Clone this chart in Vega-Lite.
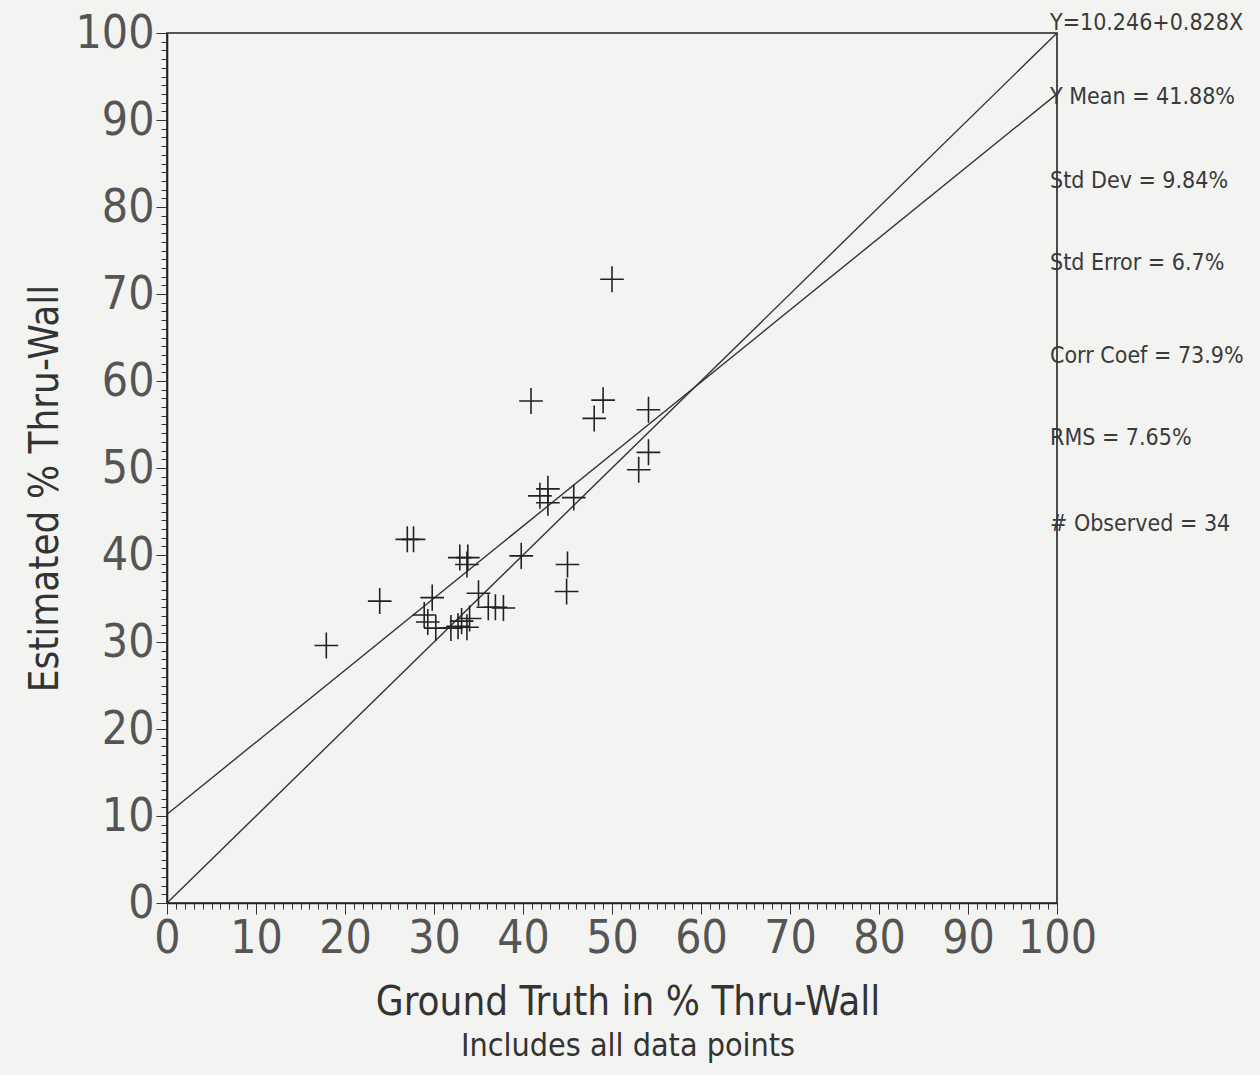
{
  "$schema": "https://vega.github.io/schema/vega-lite/v6.json",
  "width": 890,
  "height": 870,
  "autosize": "none",
  "padding": {"left": 167, "top": 33, "right": 203, "bottom": 172},
  "background": "#f3f3f1",
  "config": {
    "view": {"stroke": "#222222", "strokeWidth": 1.6},
    "font": "DejaVu Sans Condensed, sans-serif"
  },
  "datasets": {
    "points": [
      {"truth": 50.0, "est": 71.7}, {"truth": 40.9, "est": 57.7}, {"truth": 49.0, "est": 57.8},
      {"truth": 48.0, "est": 55.7}, {"truth": 54.1, "est": 56.7}, {"truth": 54.1, "est": 51.8},
      {"truth": 53.0, "est": 49.8}, {"truth": 41.9, "est": 46.8}, {"truth": 42.8, "est": 47.6},
      {"truth": 42.8, "est": 46.0}, {"truth": 45.7, "est": 46.6}, {"truth": 27.0, "est": 41.8},
      {"truth": 27.7, "est": 41.8}, {"truth": 32.9, "est": 39.7}, {"truth": 33.8, "est": 39.7},
      {"truth": 33.7, "est": 38.9}, {"truth": 39.8, "est": 39.9}, {"truth": 45.0, "est": 38.9},
      {"truth": 44.9, "est": 35.8}, {"truth": 23.9, "est": 34.7}, {"truth": 17.9, "est": 29.6},
      {"truth": 29.8, "est": 35.1}, {"truth": 35.0, "est": 35.6}, {"truth": 36.1, "est": 34.0},
      {"truth": 36.9, "est": 34.0}, {"truth": 37.8, "est": 33.9}, {"truth": 28.9, "est": 33.1},
      {"truth": 29.3, "est": 32.3}, {"truth": 30.2, "est": 31.6}, {"truth": 31.9, "est": 31.6},
      {"truth": 32.7, "est": 31.8}, {"truth": 33.1, "est": 32.4}, {"truth": 33.7, "est": 31.7},
      {"truth": 34.0, "est": 32.7}
    ],
    "lines": [
      {"line": "identity", "x": 0, "y": 0}, {"line": "identity", "x": 100, "y": 100},
      {"line": "fit", "x": 0, "y": 10.2}, {"line": "fit", "x": 100, "y": 93.0}
    ],
    "stats": [
      {"label": "Y=10.246+0.828X", "pos": 101.2},
      {"label": "Y Mean = 41.88%", "pos": 92.6},
      {"label": "Std Dev = 9.84%", "pos": 83.0},
      {"label": "Std Error = 6.7%", "pos": 73.6},
      {"label": "Corr Coef = 73.9%", "pos": 62.9},
      {"label": "RMS = 7.65%", "pos": 53.5},
      {"label": "# Observed = 34", "pos": 43.6}
    ]
  },
  "title": {
    "text": "Ground Truth in % Thru-Wall",
    "subtitle": "Includes all data points",
    "orient": "bottom",
    "anchor": "middle",
    "dx": 16,
    "offset": 22,
    "fontSize": 40,
    "fontWeight": "normal",
    "color": "#333333",
    "subtitleFontSize": 32,
    "subtitleColor": "#333333",
    "subtitlePadding": 8
  },
  "layer": [
    {
      "data": {"name": "lines"},
      "mark": {"type": "line", "color": "#333333", "strokeWidth": 1.4},
      "encoding": {
        "x": {"field": "x", "type": "quantitative", "scale": {"domain": [0, 100], "nice": false},
              "axis": {"orient": "bottom", "tickCount": 100, "labels": false, "tickSize": 6, "tickColor": "#333333", "domainColor": "#222222", "domainWidth": 1.6, "grid": false, "title": null}},
        "y": {"field": "y", "type": "quantitative", "scale": {"domain": [0, 100], "nice": false},
              "axis": {"orient": "left", "tickCount": 100, "labels": false, "tickSize": 6, "tickColor": "#333333", "domainColor": "#222222", "domainWidth": 1.6, "grid": false, "title": null}},
        "detail": {"field": "line"}
      }
    },
    {
      "data": {"name": "points"},
      "mark": {"type": "point", "shape": "M-1,0H1M0,-1.1V1.1", "size": 560, "filled": false, "stroke": "#222222", "strokeWidth": 1.6, "opacity": 1},
      "encoding": {
        "x": {"field": "truth", "type": "quantitative",
              "axis": {"orient": "bottom", "values": [0, 10, 20, 30, 40, 50, 60, 70, 80, 90, 100], "tickSize": 11, "tickColor": "#333333", "domain": false, "grid": false, "title": null,
                       "labelFontSize": 46, "labelColor": "#555555", "labelPadding": 2, "labelFlush": false}},
        "y": {"field": "est", "type": "quantitative",
              "axis": {"orient": "left", "values": [0, 10, 20, 30, 40, 50, 60, 70, 80, 90, 100], "tickSize": 11, "tickColor": "#333333", "domain": false, "grid": false,
                       "labelFontSize": 46, "labelColor": "#555555", "labelPadding": 2, "labelFlush": false,
                       "title": "Estimated % Thru-Wall", "titleFontSize": 40, "titleFontWeight": "normal", "titleColor": "#333333",
                       "titleX": -122, "titleY": 455, "titleAngle": -90, "titleBaseline": "middle", "titleAlign": "center"}}
      }
    },
    {
      "data": {"name": "stats"},
      "mark": {"type": "text", "align": "left", "baseline": "middle", "dx": -7, "fontSize": 23, "color": "#3a3a3a"},
      "encoding": {
        "x": {"datum": 100, "type": "quantitative", "axis": null},
        "y": {"field": "pos", "type": "quantitative", "axis": null},
        "text": {"field": "label"}
      }
    }
  ],
  "resolve": {"axis": {"x": "independent", "y": "independent"}}
}
